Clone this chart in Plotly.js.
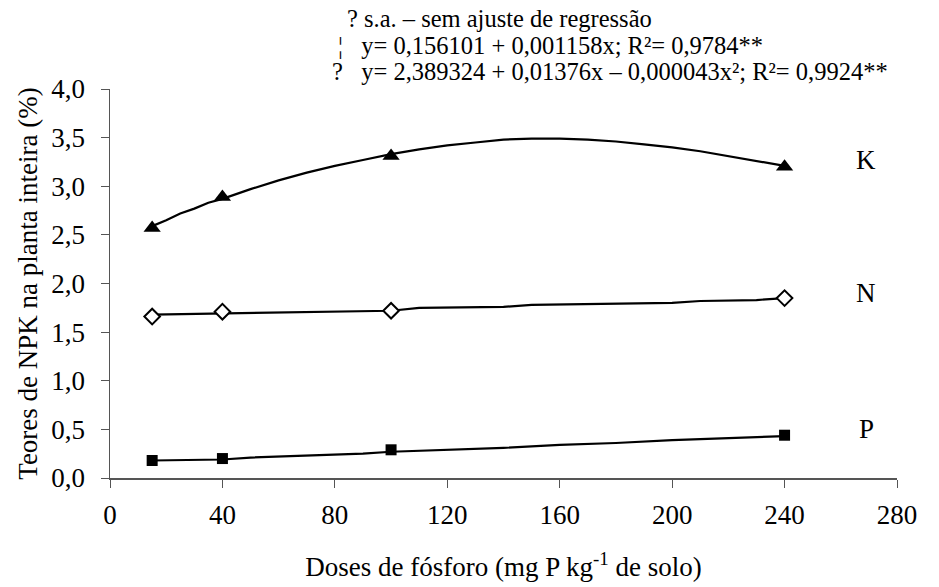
<!DOCTYPE html>
<html><head><meta charset="utf-8">
<script src="https://cdn.plot.ly/plotly-3.0.1.min.js"></script>
<style>body{margin:0;background:#fff}#chart{width:939px;height:587px}</style>
</head><body><div id="chart"></div>
<script>
// Observed points
const doses = [15, 40, 100, 240];
const kObs = [2.57, 2.89, 3.31, 3.20];
const nObs = [1.66, 1.71, 1.72, 1.85];
const pObs = [0.18, 0.20, 0.29, 0.44];

// Fitted curves
const kFitX = [15, 20, 25, 30, 35, 40, 50, 60, 70, 80, 90, 100, 110, 120, 130, 140, 150, 160, 170, 180, 190, 200, 210, 220, 230, 240];
const kFitY = [2.59, 2.65, 2.72, 2.77, 2.83, 2.87, 2.97, 3.06, 3.14, 3.21, 3.27, 3.33, 3.38, 3.42, 3.45, 3.48, 3.49, 3.49, 3.48, 3.46, 3.43, 3.40, 3.36, 3.31, 3.26, 3.21];
const nFitX = [15, 40, 60, 100, 110, 140, 150, 180, 200, 210, 230, 240];
const nFitY = [1.68, 1.69, 1.70, 1.72, 1.75, 1.76, 1.78, 1.79, 1.80, 1.82, 1.83, 1.85];
const pFitX = [15, 40, 50, 70, 90, 100, 120, 140, 160, 180, 200, 210, 230, 240];
const pFitY = [0.18, 0.19, 0.21, 0.23, 0.25, 0.27, 0.29, 0.31, 0.34, 0.36, 0.39, 0.40, 0.42, 0.43];

const xTicks = [0, 40, 80, 120, 160, 200, 240, 280];
const yTicks = [0, 0.5, 1, 1.5, 2, 2.5, 3, 3.5, 4];
const yTickText = ['0,0','0,5','1,0','1,5','2,0','2,5','3,0','3,5','4,0'];

const seriesLabels = ['K', 'N', 'P'];
const labelY = [3.27, 1.90, 0.50];
const legendLines = [
  '? s.a. – sem ajuste de regressão',
  '¦   y= 0,156101 + 0,001158x; R²= 0,9784**',
  '?   y= 2,389324 + 0,01376x – 0,000043x²; R²= 0,9924**'
];

const FAM = 'Liberation Serif';
const line = {color: '#000', width: 2.2};

const traces = [
  {x: kFitX, y: kFitY, mode: 'lines', line: line, hoverinfo: 'skip'},
  {x: nFitX, y: nFitY, mode: 'lines', line: line, hoverinfo: 'skip'},
  {x: pFitX, y: pFitY, mode: 'lines', line: line, hoverinfo: 'skip'},
  {x: doses, y: kObs, mode: 'markers', marker: {symbol: 'triangle-up', size: 15, color: '#000'}},
  {x: doses, y: nObs, mode: 'markers', marker: {symbol: 'diamond', size: 12, color: '#fff', line: {color: '#000', width: 2}}},
  {x: doses, y: pObs, mode: 'markers', marker: {symbol: 'square', size: 11, color: '#000'}}
];

const L = 110, R = 42, T = 89, B = 109;
const PW = 939 - L - R, PH = 587 - T - B;
const annotations = seriesLabels.map((s, i) => ({
  x: 269, y: labelY[i], xref: 'x', yref: 'y', text: s, showarrow: false,
  font: {family: FAM, color: '#000', size: 27}
}));
const legendX = [345, 336, 330];
const legendY = [18, 45, 72];
legendLines.forEach((t, i) => annotations.push({
  x: (legendX[i] - L) / PW, y: 1 - (legendY[i] - T) / PH, xref: 'paper', yref: 'paper',
  xanchor: 'left', yanchor: 'middle', text: t, showarrow: false,
  font: {family: FAM, color: '#000', size: 24.5}
}));

const layout = {
  width: 939, height: 587,
  margin: {l: L, r: R, t: T, b: B},
  paper_bgcolor: '#fff', plot_bgcolor: '#fff',
  showlegend: false,
  font: {family: FAM, color: '#000', size: 27},
  xaxis: {
    range: [0, 280], tickvals: xTicks, ticks: 'outside', ticklen: 8, tickwidth: 1, tickcolor: '#555',
    showline: true, linecolor: '#555', linewidth: 1.5, showgrid: false, zeroline: false,
    ticklabelstandoff: 4,
    tickfont: {family: FAM, color: '#000', size: 27},
    title: {text: 'Doses de fósforo (mg P kg<sup>-1</sup> de solo)', font: {family: FAM, color: '#000', size: 27}, standoff: 28}
  },
  yaxis: {
    range: [0, 4], tickvals: yTicks, ticktext: yTickText, ticks: 'outside', ticklen: 8, tickwidth: 1, tickcolor: '#555',
    showline: true, linecolor: '#555', linewidth: 1.5, showgrid: false, zeroline: false,
    ticklabelstandoff: 10,
    tickfont: {family: FAM, color: '#000', size: 27},
    title: {text: 'Teores de NPK na planta inteira (%)', font: {family: FAM, color: '#000', size: 27}, standoff: 6}
  },
  annotations: annotations
};

Plotly.newPlot('chart', traces, layout, {displayModeBar: false, staticPlot: true});
</script>
</body></html>
